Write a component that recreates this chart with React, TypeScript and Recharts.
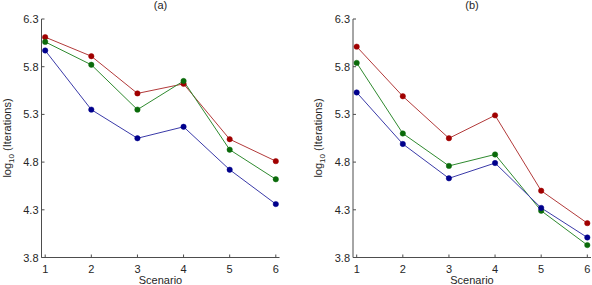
import { LineChart, Line, XAxis, YAxis, Label } from 'recharts';

// scenario numbers on the x axis
const scenarios = [1, 2, 3, 4, 5, 6];
const yTicks = [3.8, 4.3, 4.8, 5.3, 5.8, 6.3];

// log10(iterations) per scenario, panel (a)
const aRed = [6.11, 5.91, 5.52, 5.62, 5.04, 4.81];
const aGreen = [6.06, 5.82, 5.35, 5.65, 4.93, 4.62];
const aBlue = [5.97, 5.35, 5.05, 5.17, 4.72, 4.36];

// panel (b)
const bRed = [6.01, 5.49, 5.05, 5.29, 4.50, 4.16];
const bGreen = [5.84, 5.10, 4.76, 4.88, 4.29, 3.93];
const bBlue = [5.53, 4.99, 4.63, 4.79, 4.32, 4.01];

const FONT = '"Liberation Sans", Arial, Helvetica, sans-serif';
const TEXT = '#262626';
const AXIS = '#4d4d4d';

const SERIES = [
  { key: 'red', line: '#b23a3a', dot: '#a00000' },
  { key: 'green', line: '#2f8a2f', dot: '#0a6a0a' },
  { key: 'blue', line: '#3a3aa8', dot: '#00008c' },
];

const buildRows = (red: number[], green: number[], blue: number[]) =>
  scenarios.map((x, i) => ({ x, red: red[i], green: green[i], blue: blue[i] }));

// tick marks point inward, like the old MATLAB style
const YTick = (props: any) => {
  const { x, y, payload } = props;
  return (
    <g>
      <line x1={x + 3} x2={x + 6} y1={y} y2={y} stroke={AXIS} strokeWidth={1} />
      <text x={x} y={y + 4} textAnchor="end" fontSize={11} fontFamily={FONT} fill={TEXT}>
        {Number(payload.value).toFixed(1)}
      </text>
    </g>
  );
};

const XTick = (props: any) => {
  const { x, y, payload } = props;
  return (
    <g>
      <line x1={x} x2={x} y1={y - 4} y2={y - 7} stroke={AXIS} strokeWidth={1} />
      <text x={x} y={y + 11} textAnchor="middle" fontSize={11} fontFamily={FONT} fill={TEXT}>
        {payload.value}
      </text>
    </g>
  );
};

interface PanelProps {
  title: string;
  rows: ReturnType<typeof buildRows>;
  left: number;
  width: number;
  marginLeft: number;
  marginRight: number;
}

const Panel = ({ title, rows, left, width, marginLeft, marginRight }: PanelProps) => {
  const plotLeft = marginLeft + 40;
  const plotRight = width - marginRight;
  const cx = (plotLeft + plotRight) / 2;
  return (
    <div style={{ position: 'absolute', left, top: 0 }}>
      <LineChart
        width={width}
        height={285}
        data={rows}
        margin={{ top: 19, right: marginRight, bottom: 0, left: marginLeft }}
      >
        <XAxis
          dataKey="x"
          type="number"
          domain={[0.92, 6.08]}
          ticks={scenarios}
          allowDataOverflow
          height={27.5}
          tickSize={0}
          tickMargin={4}
          tickLine={false}
          axisLine={{ stroke: AXIS, strokeWidth: 1 }}
          tick={<XTick />}
        >
          <Label
            content={() => (
              <text x={cx} y={284} textAnchor="middle" fontSize={11} fontFamily={FONT} fill={TEXT}>
                Scenario
              </text>
            )}
          />
          <Label
            content={() => (
              <text x={cx} y={9} textAnchor="middle" fontSize={11} fontFamily={FONT} fill={TEXT}>
                {title}
              </text>
            )}
          />
        </XAxis>
        <YAxis
          type="number"
          domain={[3.8, 6.3]}
          ticks={yTicks}
          width={40}
          tickSize={0}
          tickMargin={3}
          tickLine={false}
          axisLine={{ stroke: AXIS, strokeWidth: 1 }}
          tick={<YTick />}
        >
          <Label
            content={() => (
              <text
                x={plotLeft - 31}
                y={138}
                transform={`rotate(-90 ${plotLeft - 31} 138)`}
                textAnchor="middle"
                fontSize={11}
                fontFamily={FONT}
                fill={TEXT}
              >
                <tspan>log</tspan>
                <tspan fontSize={8} dy={3}>10</tspan>
                <tspan dy={-3}> (Iterations)</tspan>
              </text>
            )}
          />
        </YAxis>
        {SERIES.map((s) => (
          <Line
            key={s.key}
            dataKey={s.key}
            stroke={s.line}
            strokeWidth={1}
            dot={{ r: 2.7, fill: s.dot, stroke: s.dot, strokeWidth: 0.5 }}
            isAnimationActive={false}
          />
        ))}
      </LineChart>
    </div>
  );
};

export default function App() {
  return (
    <div
      style={{
        position: 'absolute',
        left: 0,
        top: 0,
        width: 592,
        height: 285,
        background: '#ffffff',
        overflow: 'hidden',
      }}
    >
      <Panel title="(a)" rows={buildRows(aRed, aGreen, aBlue)} left={0} width={300} marginLeft={1.5} marginRight={20.5} />
      <Panel title="(b)" rows={buildRows(bRed, bGreen, bBlue)} left={296} width={296} marginLeft={17} marginRight={1} />
    </div>
  );
}
